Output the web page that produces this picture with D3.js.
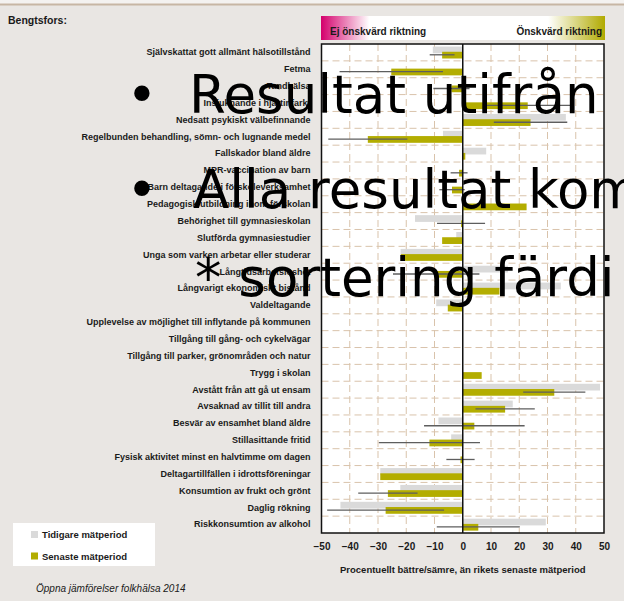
<!DOCTYPE html>
<html lang="sv">
<head>
<meta charset="utf-8">
<title>Bengtsfors – folkhälsa</title>
<script src="https://cdn.jsdelivr.net/npm/d3@7"></script>
<style>
  html, body { margin: 0; padding: 0; background: #e9e6e3; }
  #chart { width: 624px; height: 601px; }
  .lbl { font-family: "Liberation Sans", Arial, sans-serif; font-weight: bold; fill: #1a1a1a; }
  .bullet-text { font-family: "DejaVu Sans", Verdana, sans-serif; fill: #000; }
</style>
</head>
<body>
<div id="chart"></div>
<script>
// Data (percent better/worse than the national value)
const categories = [
  "Självskattat gott allmänt hälsotillstånd",
  "Fetma",
  "Tandhälsa",
  "Insjuknande i hjärtinfarkt",
  "Nedsatt psykiskt välbefinnande",
  "Regelbunden behandling, sömn- och lugnande medel",
  "Fallskador bland äldre",
  "MPR-vaccination av barn",
  "Barn deltagande i förskoleverksamhet",
  "Pedagogisk utbildning inom förskolan",
  "Behörighet till gymnasieskolan",
  "Slutförda gymnasiestudier",
  "Unga som varken arbetar eller studerar",
  "Långtidsarbetslöshet",
  "Långvarigt ekonomiskt bistånd",
  "Valdeltagande",
  "Upplevelse av möjlighet till inflytande på kommunen",
  "Tillgång till gång- och cykelvägar",
  "Tillgång till parker, grönområden och natur",
  "Trygg i skolan",
  "Avstått från att gå ut ensam",
  "Avsaknad av tillit till andra",
  "Besvär av ensamhet bland äldre",
  "Stillasittande fritid",
  "Fysisk aktivitet minst en halvtimme om dagen",
  "Deltagartillfällen i idrottsföreningar",
  "Konsumtion av frukt och grönt",
  "Daglig rökning",
  "Riskkonsumtion av alkohol"
];

// Tidigare mätperiod (grey bars)
const tidigare = [
  -10.6, null, null, null, 36.5, -7, 8.3, null, null, null,
  -16.9, -2.3, -22, 16, 34.7, -9.4, null, null, null, null,
  48.6, 17.7, -8.6, -4.1, null, -29.2, -22.1, -43.3, 29.4
];

// Senaste mätperiod (olive bars)
const senaste = [
  -7.3, -25.3, -4, 23, 24, -33.6, 0.9, -1.3, -3.8, 22.6,
  -0.6, -7.3, -21.9, -9.4, 13, -5.3, null, null, null, 6.7,
  32.4, 15, 4.1, -11.8, -0.8, -29.2, -26.5, -27.3, 5.5
];

// Half-width of the uncertainty line around the latest value
const felmarginal = [
  4.4, 18.3, 6.4, 15.5, 13, 14, null, 3, 4.5, null,
  8.5, null, null, 15.3, null, null, null, null, null, null,
  11, 10.5, 17.8, 17.9, 5, null, 10.5, 20.7, 14.7
];

const xTicks = [-50, -40, -30, -20, -10, 0, 10, 20, 30, 40, 50];

const legendItems = ["Tidigare mätperiod", "Senaste mätperiod"];

const overlayLines = [
  { mark: "•", text: "Resultat utifrån" },
  { mark: "•", text: "Alla resultat kom" },
  { mark: "", text: "* sortering färdi" }
];

document.addEventListener("DOMContentLoaded", () => {
  if (!window.d3) {
    console.error("D3 library (d3.v7) is not loaded.");
    return;
  }

  const W = 624, H = 601;
  const grey = "#dadada";
  const olive = "#b3ad00";

  const svg = d3.select("#chart")
    .append("svg")
    .attr("width", W)
    .attr("height", H);

  // ------------------------------------------------------------
  // Slide background and top rule
  // ------------------------------------------------------------
  svg.append("rect").attr("width", W).attr("height", H).attr("fill", "#e9e6e3");
  svg.append("rect").attr("width", W).attr("height", 4).attr("fill", "#f4f2f0");
  svg.append("line")
    .attr("x1", 0).attr("x2", W).attr("y1", 4.5).attr("y2", 4.5)
    .attr("stroke", "#c7b6a4").attr("stroke-width", 2);

  svg.append("text")
    .attr("class", "lbl")
    .attr("x", 8).attr("y", 24)
    .style("font-size", "10.5px")
    .text("Bengtsfors:");

  // ------------------------------------------------------------
  // Scales
  // ------------------------------------------------------------
  const plot = { left: 321.5, right: 604, top: 44, bottom: 533 };

  const x = d3.scaleLinear().domain([-50, 50]).range([plot.left, plot.right]);
  const y = d3.scaleBand().domain(categories).range([plot.top, plot.bottom]).padding(0);
  const bw = y.bandwidth();

  // ------------------------------------------------------------
  // Direction banner (gradient)
  // ------------------------------------------------------------
  const defs = svg.append("defs");
  const grad = defs.append("linearGradient").attr("id", "dirGrad");
  grad.append("stop").attr("offset", "0%").attr("stop-color", "#d4006c");
  grad.append("stop").attr("offset", "17%").attr("stop-color", "#ffffff");
  grad.append("stop").attr("offset", "80%").attr("stop-color", "#ffffff");
  grad.append("stop").attr("offset", "100%").attr("stop-color", "#b1aa00");

  svg.append("rect")
    .attr("x", plot.left - 0.5).attr("y", 16)
    .attr("width", 284).attr("height", 24)
    .attr("fill", "url(#dirGrad)");

  svg.append("text")
    .attr("class", "lbl")
    .attr("x", 330).attr("y", 35)
    .style("font-size", "10px")
    .text("Ej önskvärd riktning");

  svg.append("text")
    .attr("class", "lbl")
    .attr("x", 602).attr("y", 35)
    .attr("text-anchor", "end")
    .style("font-size", "10px")
    .text("Önskvärd riktning");

  // ------------------------------------------------------------
  // Plot area + dashed grid
  // ------------------------------------------------------------
  svg.append("rect")
    .attr("x", plot.left).attr("y", plot.top)
    .attr("width", plot.right - plot.left).attr("height", plot.bottom - plot.top)
    .attr("fill", "#fff");

  const grid = svg.append("g").attr("stroke", "#d9c3ab").attr("stroke-width", 1)
    .attr("stroke-dasharray", "7,4");

  grid.selectAll("line.h")
    .data(categories.slice(1))
    .join("line")
    .attr("class", "h")
    .attr("x1", plot.left).attr("x2", plot.right)
    .attr("y1", d => y(d)).attr("y2", d => y(d));

  grid.selectAll("line.v")
    .data(xTicks.filter(t => t !== 0 && Math.abs(t) !== 50))
    .join("line")
    .attr("class", "v")
    .attr("x1", d => x(d)).attr("x2", d => x(d))
    .attr("y1", plot.top).attr("y2", plot.bottom);

  // ------------------------------------------------------------
  // Bars
  // ------------------------------------------------------------
  const rows = categories.map((c, i) => ({
    cat: c, prev: tidigare[i], last: senaste[i], err: felmarginal[i]
  }));

  svg.append("g").selectAll("rect")
    .data(rows.filter(d => d.prev != null))
    .join("rect")
    .attr("x", d => x(Math.min(0, d.prev)))
    .attr("y", d => y(d.cat) + bw * 0.15)
    .attr("width", d => Math.abs(x(d.prev) - x(0)))
    .attr("height", bw * 0.4)
    .attr("fill", grey);

  svg.append("g").selectAll("rect")
    .data(rows.filter(d => d.last != null))
    .join("rect")
    .attr("x", d => x(Math.min(0, d.last)))
    .attr("y", d => y(d.cat) + bw * 0.46)
    .attr("width", d => Math.abs(x(d.last) - x(0)))
    .attr("height", bw * 0.4)
    .attr("fill", olive);

  svg.append("g").selectAll("line")
    .data(rows.filter(d => d.err != null && d.last != null))
    .join("line")
    .attr("x1", d => x(d.last - d.err))
    .attr("x2", d => x(d.last + d.err))
    .attr("y1", d => y(d.cat) + bw * 0.64)
    .attr("y2", d => y(d.cat) + bw * 0.64)
    .attr("stroke", "#5e5e5e")
    .attr("stroke-width", 1.3);

  // zero line + frame
  svg.append("line")
    .attr("x1", x(0)).attr("x2", x(0))
    .attr("y1", plot.top).attr("y2", plot.bottom)
    .attr("stroke", "#111").attr("stroke-width", 1.5);

  svg.append("rect")
    .attr("x", plot.left).attr("y", plot.top)
    .attr("width", plot.right - plot.left).attr("height", plot.bottom - plot.top)
    .attr("fill", "none").attr("stroke", "#111").attr("stroke-width", 1.5);

  // ------------------------------------------------------------
  // Axes
  // ------------------------------------------------------------
  const yAxisG = svg.append("g")
    .attr("transform", `translate(${plot.left},0)`)
    .call(d3.axisLeft(y).tickSize(0).tickPadding(11));
  yAxisG.select(".domain").remove();
  yAxisG.selectAll("text")
    .attr("class", "lbl")
    .style("font-size", "9px")
    .attr("fill", "#1a1a1a");

  const xAxisG = svg.append("g")
    .attr("transform", `translate(0,${plot.bottom})`)
    .call(d3.axisBottom(x).tickValues(xTicks).tickSize(0).tickPadding(10));
  xAxisG.select(".domain").remove();
  xAxisG.selectAll("text")
    .attr("class", "lbl")
    .style("font-size", "10px")
    .attr("fill", "#1a1a1a");

  svg.append("text")
    .attr("class", "lbl")
    .attr("x", x(0)).attr("y", 573)
    .attr("text-anchor", "middle")
    .style("font-size", "9.5px")
    .text("Procentuellt bättre/sämre, än rikets senaste mätperiod");

  // ------------------------------------------------------------
  // Legend + source
  // ------------------------------------------------------------
  svg.append("rect")
    .attr("x", 13).attr("y", 523).attr("width", 142).attr("height", 43)
    .attr("fill", "#fff");

  const lg = svg.append("g").selectAll("g")
    .data(legendItems)
    .join("g")
    .attr("transform", (d, i) => `translate(31,${531 + i * 21.5})`);
  lg.append("rect").attr("width", 7).attr("height", 7)
    .attr("fill", (d, i) => (i === 0 ? grey : olive));
  lg.append("text")
    .attr("class", "lbl")
    .attr("x", 11).attr("y", 7)
    .style("font-size", "9.5px")
    .text(d => d);

  svg.append("text")
    .attr("class", "lbl")
    .attr("x", 36).attr("y", 592)
    .style("font-size", "10px")
    .style("font-weight", "normal")
    .style("font-style", "italic")
    .text("Öppna jämförelser folkhälsa 2014");

  // ------------------------------------------------------------
  // Slide bullet text on top
  // ------------------------------------------------------------
  const baselines = [113, 208, 296];
  const textX = [189, 193, 195];
  const ov = svg.append("g").selectAll("g")
    .data(overlayLines)
    .join("g");
  ov.append("text")
    .attr("class", "bullet-text")
    .attr("x", 142).attr("y", (d, i) => baselines[i])
    .attr("text-anchor", "middle")
    .style("font-size", "53px")
    .text(d => d.mark);
  ov.append("text")
    .attr("class", "bullet-text")
    .attr("x", (d, i) => textX[i])
    .attr("y", (d, i) => baselines[i])
    .style("font-size", "53px")
    .text(d => d.text);
});
</script>
</body>
</html>
